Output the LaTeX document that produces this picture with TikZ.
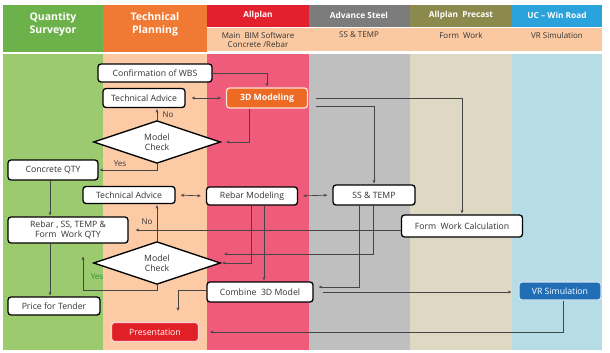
\documentclass[tikz,border=0pt]{standalone}
\usepackage{fontspec}
\setmainfont{Open Sans}
\usetikzlibrary{shapes.geometric,calc,arrows.meta}

\definecolor{qshead}{HTML}{6CB14A}
\definecolor{qsbody}{HTML}{9BCB6E}
\definecolor{tphead}{HTML}{F07A33}
\definecolor{tpbody}{HTML}{FCCBA6}
\definecolor{aphead}{HTML}{E2202E}
\definecolor{apbody}{HTML}{EF5C7B}
\definecolor{ashead}{HTML}{7C7C7C}
\definecolor{asbody}{HTML}{BFBFBF}
\definecolor{pchead}{HTML}{8C894D}
\definecolor{pcbody}{HTML}{DFD9C4}
\definecolor{uchead}{HTML}{2AA3DC}
\definecolor{ucbody}{HTML}{B6DCE5}
\definecolor{subhead}{HTML}{FBC9A1}
\definecolor{modelorange}{HTML}{EC6A23}
\definecolor{presred}{HTML}{E01F27}
\definecolor{vrblue}{HTML}{1F6EB6}
\definecolor{linegray}{HTML}{454545}
\definecolor{yesgreen}{HTML}{2E8B3A}

\begin{document}
\begin{tikzpicture}[x=1pt, y=-1pt, >={Stealth[length=3.5pt,width=3pt]},
    box/.style={draw=black, fill=white, rounded corners=3pt, line width=1.3pt,
        font=\fontsize{8.7}{9.5}\selectfont, text=black!80, inner sep=1pt, align=center},
    colorbox/.style={box, draw=white!80!#1, text=white},
    check/.style={diamond, draw=black, fill=white, line width=1.3pt, inner sep=0pt,
        minimum width=127pt, minimum height=38pt, align=center,
        font=\fontsize{8.7}{10.5}\selectfont, text=black!80},
    conn/.style={->, draw=linegray, line width=0.7pt, shorten >=1pt},
    head/.style={text=white, font=\bfseries\fontsize{8.3}{9}\selectfont, align=center},
    bighead/.style={text=white, font=\bfseries\fontsize{10.5}{13}\selectfont, align=center},
    subtext/.style={text=black!80, font=\fontsize{8}{9.5}\selectfont, align=center},
    lbl/.style={font=\fontsize{8}{9}\selectfont, text=black!80}]

\useasboundingbox (0,0) rectangle (610,353);

% lanes
\fill[qsbody] (3,54) rectangle (103,350);
\fill[tpbody] (103,54) rectangle (207,350);
\fill[apbody] (207,54) rectangle (309,350);
\fill[asbody] (309,54) rectangle (410,350);
\fill[pcbody] (410,54) rectangle (512,350);
\fill[ucbody] (512,54) rectangle (602,350);

% headers
\fill[qshead] (3,5) rectangle (103,52);
\fill[tphead] (103,5) rectangle (207,52);
\fill[aphead] (207,5) rectangle (309,27);
\fill[ashead] (309,5) rectangle (410,27);
\fill[pchead] (410,5) rectangle (512,27);
\fill[uchead] (512,5) rectangle (602,27);
\fill[subhead] (207,28) rectangle (602,51);

\node[bighead] (hqs) at (53,24) {Quantity\\Surveyor};
\node[bighead] (htp) at (155,24) {Technical\\Planning};
\node[head] (hap) at (258,15) {Allplan};
\node[head] (has) at (359,15) {Advance Steel};
\node[head] (hpc) at (461,15) {Allplan~~Precast};
\node[head] (huc) at (557,15) {UC -- Win Road};
\node[subtext] (sap) at (258,40) {Main~~BIM Software\\Concrete /Rebar};
\node[subtext] (sas) at (359,35) {SS \& TEMP};
\node[subtext] (spc) at (461,35) {Form~~Work};
\node[subtext] (suc) at (557,35) {VR Simulation};

% boxes
\node[box, minimum width=114pt, minimum height=18pt] (wbs) at (155,73) {Confirmation of WBS};
\node[box, minimum width=82pt, minimum height=19pt] (advice1) at (144,98) {Technical Advice};
\node[colorbox=modelorange, fill=modelorange, font=\bfseries\fontsize{8.7}{9.5}\selectfont,
    minimum width=81pt, minimum height=20pt] (modeling) at (267,98) {3D Modeling};
\node[check] (check1) at (157,142) {Model\\Check};
\node[box, minimum width=90pt, minimum height=20pt] (concrete) at (53,170) {Concrete QTY};
\node[box, minimum width=92pt, minimum height=17pt] (advice2) at (129,195) {Technical Advice};
\node[box, minimum width=91pt, minimum height=18pt] (rebar) at (252,196) {Rebar Modeling};
\node[box, minimum width=82pt, minimum height=20pt] (sstemp) at (374,195) {SS \& TEMP};
\node[box, minimum width=120pt, minimum height=26pt] (qty) at (68,230) {Rebar , SS, TEMP \&\\Form~~Work QTY};
\node[box, minimum width=121pt, minimum height=22pt] (formwork) at (462,226) {Form~~Work Calculation};
\node[check] (check2) at (157,263) {Model\\Check};
\node[box, minimum width=106pt, minimum height=20pt] (combine) at (260,292) {Combine~~3D Model};
\node[box, minimum width=92pt, minimum height=18pt] (price) at (54,306) {Price for Tender};
\node[colorbox=presred, fill=presred, minimum width=87pt, minimum height=19pt] (present) at (155,332) {Presentation};
\node[colorbox=vrblue, fill=vrblue, minimum width=82pt, minimum height=18pt] (vr) at (560,291) {VR Simulation};

% connectors
\draw[conn] (wbs.east) -| (modeling.north);
\draw[conn, <->, shorten <=6pt, shorten >=5pt] (advice1.east) -- (modeling.west);
\draw[conn, shorten >=5pt] ($(modeling.south)+(-18,0)$) |- (check1.east);
\draw[conn] (check1.north) -- (check1.north |- advice1.south);
\node[lbl] (no1) at (168,115) {No};
\draw[conn] (check1.south) |- (concrete.east);
\node[lbl] (yes1) at (120,164) {Yes};
\draw[conn] ($(concrete.south)+(-3,0)$) -- ($(concrete.south |- qty.north)+(-3,0)$);
\draw[conn, shorten <=8pt] (modeling.east) -| (formwork.north);
\draw[conn, shorten <=8pt] ($(modeling.east)+(0,8)$) -| (sstemp.north);
\draw[conn, <->, shorten <=5pt, shorten >=5pt] (advice2.east) -- (rebar.west);
\draw[conn, <->, shorten <=5pt, shorten >=5pt] (rebar.east) -- (sstemp.west);
\draw[conn, shorten >=7pt] (formwork.west |- qty.east) -- (qty.east);
\draw[conn] (check2.north) -- (check2.north |- advice2.south);
\node[lbl] (no2) at (147,222) {No};
\draw[conn] ($(sstemp.south)+(-1,0)$) |- ($(check2.east)+(2,-9)$);
\draw[conn, shorten >=5pt] ($(sstemp.south)+(-15,0)$) |- ($(combine.east)+(0,-5)$);
\draw[conn] ($(rebar.south)+(-1,0)$) |- (check2.east);
\draw[conn] ($(rebar.south)+(12,0)$) -- ($(rebar.south |- combine.north)+(12,0)$);
\draw[conn] (check2.south) -- ++(0,5) -| ($(qty.south)+(15,12)$);
\node[lbl, text=yesgreen] (yes2) at (97,277) {Yes};
\draw[conn] ($(qty.south)+(-18,0)$) -- ($(qty.south |- price.north)+(-18,0)$);
\draw[conn] ($(combine.west)+(0,-2)$) -| ($(present.north)+(23,-10)$);
\draw[conn, shorten <=9pt, shorten >=7pt] (combine.east) -- (combine.east -| vr.west);
\draw[conn, shorten >=11pt] ($(vr.south)+(3,0)$) |- (present.east);

\end{tikzpicture}
\end{document}
